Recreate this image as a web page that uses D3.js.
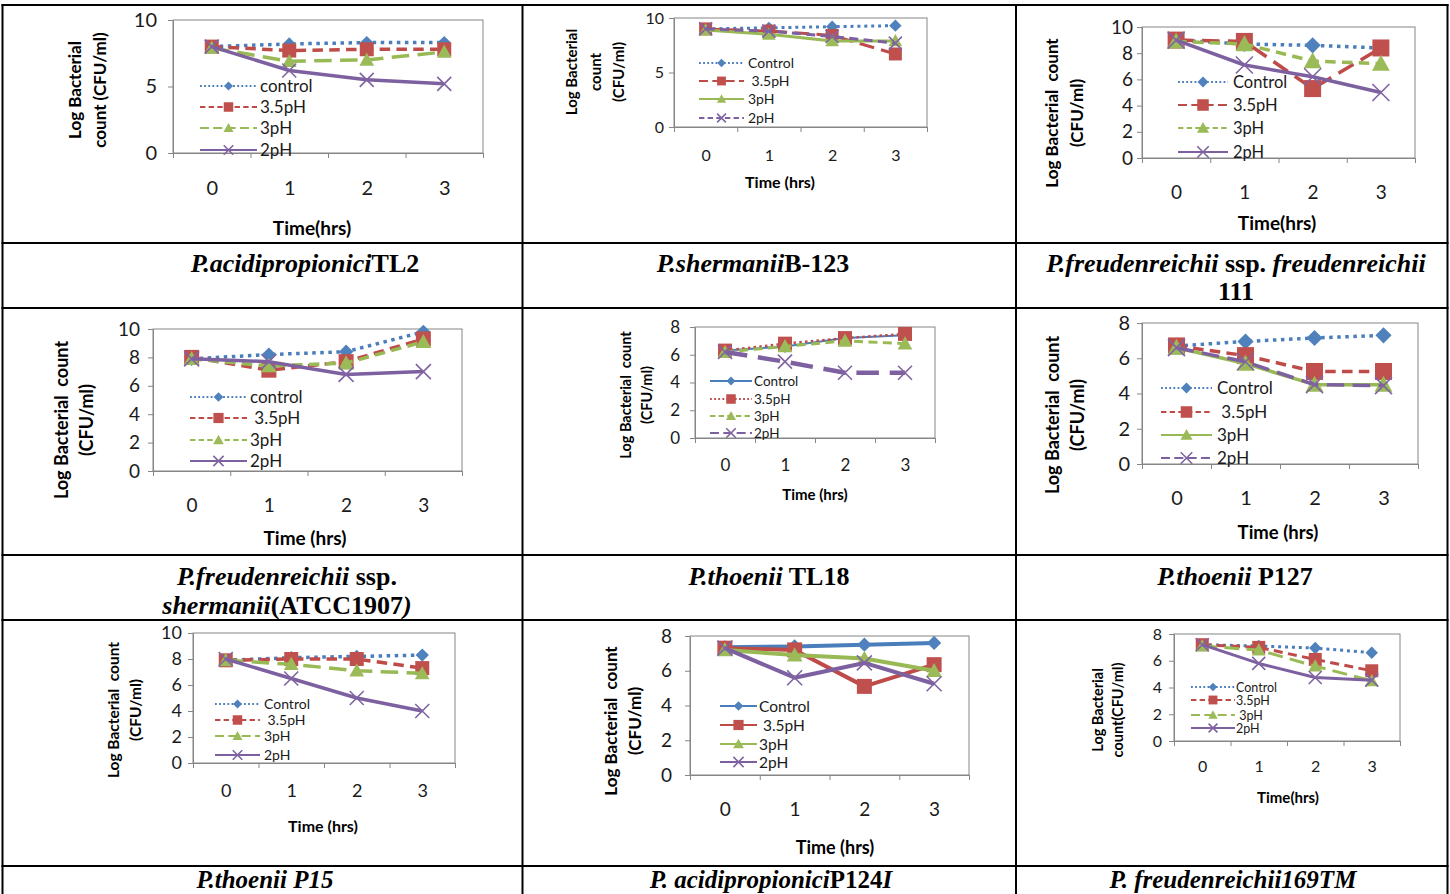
<!DOCTYPE html>
<html>
<head>
<meta charset="utf-8">
<script src="https://cdn.jsdelivr.net/npm/d3@7"></script>
<style>
  body { margin: 0; background: #fff; }
  svg { display: block; }
</style>
</head>
<body>
<svg id="fig" width="1450" height="894"></svg>
<script>
// sampling times (hrs)
const times = [0, 1, 2, 3];

// log bacterial count (CFU/ml) per strain, series order: control, 3.5pH, 3pH, 2pH
const acidipropioniciTL2 = [[8.0, 8.2, 8.3, 8.3], [8.0, 7.7, 7.8, 7.8], [7.9, 6.9, 7.0, 7.6], [8.0, 6.2, 5.5, 5.2]];
const shermaniiB123 = [[9.0, 9.1, 9.2, 9.3], [9.0, 8.8, 8.4, 6.7], [8.9, 8.5, 7.9, 7.9], [9.0, 8.8, 8.3, 7.7]];
const freudenreichii111 = [[9.0, 8.7, 8.6, 8.4], [9.0, 8.9, 5.3, 8.4], [8.9, 8.7, 7.4, 7.2], [9.0, 7.1, 6.2, 5.0]];
const shermaniiATCC1907 = [[7.9, 8.2, 8.4, 9.8], [8.0, 7.1, 7.7, 9.3], [7.9, 7.4, 7.6, 9.1], [7.9, 7.7, 6.8, 7.0]];
const thoeniiTL18 = [[6.3, 6.6, 7.2, 7.4], [6.3, 6.8, 7.2, 7.5], [6.2, 6.6, 7.0, 6.8], [6.2, 5.5, 4.7, 4.7]];
const thoeniiP127 = [[6.7, 6.95, 7.15, 7.3], [6.7, 6.15, 5.25, 5.25], [6.6, 5.7, 4.5, 4.5], [6.6, 5.8, 4.5, 4.45]];
const thoeniiP15 = [[7.9, 8.1, 8.2, 8.3], [7.9, 8.0, 8.0, 7.3], [7.9, 7.6, 7.1, 6.9], [8.0, 6.5, 5.0, 4.0]];
const acidipropioniciP124I = [[7.35, 7.4, 7.5, 7.6], [7.3, 7.2, 5.1, 6.35], [7.2, 6.9, 6.7, 6.0], [7.3, 5.6, 6.45, 5.25]];
const freudenreichii169TM = [[7.2, 7.1, 6.95, 6.6], [7.2, 7.0, 6.1, 5.25], [7.1, 6.8, 5.6, 4.5], [7.2, 5.8, 4.75, 4.55]];

const strainData = [
  acidipropioniciTL2, shermaniiB123, freudenreichii111,
  shermaniiATCC1907, thoeniiTL18, thoeniiP127,
  thoeniiP15, acidipropioniciP124I, freudenreichii169TM,
];

// axis maxima / tick steps per panel
const yMax = [10, 10, 10, 10, 8, 8, 10, 8, 8];
const yStep = [5, 5, 2, 2, 2, 2, 2, 2, 2];

// legend labels (as typed in each chart)
const legendLabels = [
  ['control', '3.5pH', '3pH', '2pH'],
  ['Control', ' 3.5pH', '3pH', '2pH'],
  ['Control', '3.5pH', '3pH', '2pH'],
  ['control', ' 3.5pH', '3pH', '2pH'],
  ['Control', '3.5pH', '3pH', '2pH'],
  ['Control', ' 3.5pH', '3pH', '2pH'],
  ['Control', ' 3.5pH', '3pH', '2pH'],
  ['Control', ' 3.5pH', '3pH', '2pH'],
  ['Control', '3.5pH', ' 3pH', '2pH'],
];

const yTitles = [
  ['Log Bacterial', 'count (CFU/ml)'],
  ['Log Bacterial', 'count', '(CFU/ml)'],
  ['Log Bacterial  count', '(CFU/ml)'],
  ['Log Bacterial  count', '(CFU/ml)'],
  ['Log Bacterial  count', '(CFU/ml)'],
  ['Log Bacterial  count', '(CFU/ml)'],
  ['Log Bacterial  count', '(CFU/ml)'],
  ['Log Bacterial  count', '(CFU/ml)'],
  ['Log Bacterial', 'count(CFU/ml)'],
];

const xTitles = ['Time(hrs)', 'Time (hrs)', 'Time(hrs)', 'Time (hrs)', 'Time (hrs)',
  'Time (hrs)', 'Time (hrs)', 'Time (hrs)', 'Time(hrs)'];

// captions: [text, italic] runs, one array per line
const captions = [
  [[['P.acidipropionici', 1], ['TL2', 0]]],
  [[['P.shermanii', 1], ['B-123', 0]]],
  [[['P.freudenreichii', 1], [' ssp. ', 0], ['freudenreichii', 1]], [['111', 0]]],
  [[['P.freudenreichii', 1], [' ssp.', 0]], [['shermanii', 1], ['(ATCC1907', 0], [')', 1]]],
  [[['P.thoenii', 1], [' TL18', 0]]],
  [[['P.thoenii', 1], [' P127', 0]]],
  [[['P.thoenii P15', 1]]],
  [[['P. acidipropionici', 1], ['P124', 0], ['I', 1]]],
  [[['P. freudenreichii169TM', 1]]],
];

// ---- layout (pixel geometry of each pasted chart) ----
const panels = [
  { plot: [173, 483, 20, 153], tickFs: 20, tickGap: 16, xLabY: 188, xTitle: [312, 228, 19],
    yT: { x: [75, 100], y: 90, fs: 17 }, leg: { x: [200, 257, 260], y: [86, 107, 128, 150], fs: 17 },
    lw: 3.5, ms: 14, dash: ['dot', 'dash', 'long', 'solid'] },
  { plot: [674, 927, 18, 127], tickFs: 16, tickGap: 10, xLabY: 155, xTitle: [780, 182, 16],
    yT: { x: [572, 596, 619], y: 72, fs: 15 }, leg: { x: [699, 744, 748], y: [63, 81, 99, 118], fs: 14 },
    lw: 3, ms: 13, dash: ['dot', 'long', 'solid', 'dash'] },
  { plot: [1142, 1415, 27, 158], tickFs: 19, tickGap: 9, xLabY: 192, xTitle: [1277, 223, 19],
    yT: { x: [1052, 1077], y: 113, fs: 17 }, leg: { x: [1178, 1228, 1233], y: [82, 105, 128, 152], fs: 16.5 },
    lw: 3.5, ms: 17, dash: ['dot', 'long', 'dash', 'solid'] },
  { plot: [153, 462, 329, 471], tickFs: 19, tickGap: 13, xLabY: 505, xTitle: [305, 538, 19],
    yT: { x: [62, 87], y: 420, fs: 18 }, leg: { x: [190, 247, 250], y: [397, 418, 440, 461], fs: 17 },
    lw: 3.5, ms: 15, dash: ['dot', 'dash', 'dash', 'solid'] },
  { plot: [695, 935, 327, 438], tickFs: 17, tickGap: 15, xLabY: 465, xTitle: [815, 495, 15],
    yT: { x: [626, 647], y: 395, fs: 14.5 }, leg: { x: [710, 752, 754], y: [381, 399, 416, 433], fs: 13.5 },
    lw: [2, 2.5, 3, 4.5], ms: 14, dash: ['solid', 'dot', 'dash', 'long'] },
  { plot: [1142, 1418, 323, 464], tickFs: 20, tickGap: 12, xLabY: 498, xTitle: [1278, 532, 18.5],
    yT: { x: [1053, 1078], y: 415, fs: 18 }, leg: { x: [1161, 1212, 1217], y: [388, 412, 435, 458], fs: 17 },
    lw: 3.5, ms: 17, dash: ['dot', 'dash', 'solid', 'long'] },
  { plot: [193, 455, 633, 763], tickFs: 18, tickGap: 11, xLabY: 791, xTitle: [323, 826, 16],
    yT: { x: [113, 135], y: 710, fs: 15.5 }, leg: { x: [215, 260, 264], y: [704, 720, 736, 755], fs: 14 },
    lw: 3.5, ms: 14, dash: ['dot', 'dash', 'long', 'solid'] },
  { plot: [690, 969, 636, 775], tickFs: 19, tickGap: 18, xLabY: 809, xTitle: [835, 848, 18],
    yT: { x: [611, 635], y: 721, fs: 17 }, leg: { x: [720, 757, 759], y: [706, 725, 744, 762], fs: 15.5 },
    lw: 4, ms: 15, dash: ['solid', 'solid', 'solid', 'solid'] },
  { plot: [1174, 1400, 634, 741], tickFs: 16, tickGap: 12, xLabY: 766, xTitle: [1288, 798, 15],
    yT: { x: [1098, 1118], y: 710, fs: 14.5 }, leg: { x: [1191, 1235, 1236], y: [687, 700, 715, 728], fs: 12.5 },
    lw: 3, ms: 13, dash: ['dot', 'dash', 'long', 'solid'] },
];

const captionPos = [
  [305, [272]], [753, [272]], [1236, [272, 300]],
  [287, [585, 614]], [769, [585]], [1235, [585]],
  [265, [888]], [771, [888]], [1233, [888]],
];

const seriesStyle = [
  { marker: 'diamond', line: '#4a7ebb', fill: '#4f81bd' },
  { marker: 'square', line: '#be4b48', fill: '#c0504d' },
  { marker: 'triangle', line: '#98b954', fill: '#9bbb59' },
  { marker: 'x', line: '#7d60a0', fill: '#8064a2' },
];

const font = 'Lato, "Open Sans", sans-serif';
const axisGray = '#868686';

const svg = d3.select('#fig');

function dashFor(kind, w) {
  if (kind === 'dot') return `${w},${w * 1.3}`;
  if (kind === 'dash') return `${w * 3},${w * 1.8}`;
  if (kind === 'long') return `${w * 5},${w * 2.4}`;
  return null;
}

// marker outline around (0,0)
function markerPath(kind, s) {
  const h = s / 2;
  if (kind === 'diamond') return `M0,${-h}L${h},0L0,${h}L${-h},0Z`;
  if (kind === 'square') return `M${-h},${-h}H${h}V${h}H${-h}Z`;
  if (kind === 'triangle') return `M0,${-h}L${h},${h * 0.8}L${-h},${h * 0.8}Z`;
  return `M${-h},${-h}L${h},${h}M${h},${-h}L${-h},${h}`;
}

function addMarker(sel, k, s, cx, cy) {
  const st = seriesStyle[k];
  const size = st.marker === 'diamond' ? s * 0.95 : st.marker === 'triangle' ? s * 1.05 : s;
  const m = sel.append('path')
    .attr('transform', `translate(${cx},${cy})`)
    .attr('d', markerPath(st.marker, size));
  if (st.marker === 'x') {
    m.attr('fill', 'none').attr('stroke', st.fill).attr('stroke-width', 1.6);
  } else {
    m.attr('fill', st.fill).attr('stroke', 'none');
  }
}

function drawPanel(p, i) {
  const [x0, x1, yTop, yBot] = p.plot;
  const g = svg.append('g');

  const xLin = d3.scaleLinear().domain([-0.5, times.length - 0.5]).range([x0, x1]);
  const y = d3.scaleLinear().domain([0, yMax[i]]).range([yBot, yTop]);

  // plot area frame
  g.append('rect')
    .attr('x', x0).attr('y', yTop)
    .attr('width', x1 - x0).attr('height', yBot - yTop)
    .attr('fill', 'none').attr('stroke', axisGray).attr('stroke-width', 1);

  // y axis
  const yAxis = g.append('g')
    .attr('transform', `translate(${x0},0)`)
    .call(d3.axisLeft(y)
      .tickValues(d3.range(0, yMax[i] + 0.001, yStep[i]))
      .tickFormat(d3.format('d'))
      .tickSize(5).tickSizeOuter(0)
      .tickPadding(p.tickGap - 5));

  // x axis: boundary ticks + centred labels
  const xTicks = g.append('g')
    .attr('transform', `translate(0,${yBot})`)
    .call(d3.axisBottom(xLin)
      .tickValues(d3.range(-0.5, times.length, 1))
      .tickSize(5).tickSizeOuter(0).tickFormat(''));
  const xLabels = g.append('g')
    .attr('transform', `translate(0,${yBot})`)
    .call(d3.axisBottom(xLin)
      .tickValues(times)
      .tickFormat(d3.format('d'))
      .tickSize(0)
      .tickPadding(p.xLabY - yBot - 0.36 * p.tickFs));
  xLabels.select('.domain').remove();

  [yAxis, xTicks, xLabels].forEach(a => {
    a.selectAll('.domain, line').attr('stroke', axisGray);
    a.selectAll('text')
      .attr('font-family', font)
      .attr('font-size', p.tickFs)
      .attr('fill', '#1a1a1a');
  });

  // series
  const line = d3.line()
    .x((d, j) => xLin(times[j]))
    .y(d => y(d));

  strainData[i].forEach((vals, k) => {
    const w = Array.isArray(p.lw) ? p.lw[k] : p.lw;
    g.append('path')
      .datum(vals)
      .attr('d', line)
      .attr('fill', 'none')
      .attr('stroke', seriesStyle[k].line)
      .attr('stroke-width', w)
      .attr('stroke-linejoin', 'round')
      .attr('stroke-dasharray', dashFor(p.dash[k], w));
    vals.forEach((v, j) => addMarker(g, k, p.ms, xLin(times[j]), y(v)));
  });

  // legend
  const lg = g.append('g');
  legendLabels[i].forEach((lab, k) => {
    const ly = p.leg.y[k];
    const w = 1.8;
    lg.append('line')
      .attr('x1', p.leg.x[0]).attr('x2', p.leg.x[1])
      .attr('y1', ly).attr('y2', ly)
      .attr('stroke', seriesStyle[k].line)
      .attr('stroke-width', w)
      .attr('stroke-dasharray', dashFor(p.dash[k], w));
    addMarker(lg, k, p.ms * 0.68, (p.leg.x[0] + p.leg.x[1]) / 2, ly);
    lg.append('text')
      .attr('x', p.leg.x[2]).attr('y', ly)
      .attr('dy', '0.36em')
      .style('white-space', 'pre')
      .attr('font-family', font)
      .attr('font-size', p.leg.fs)
      .attr('fill', '#1a1a1a')
      .text(lab);
  });

  // axis titles
  g.append('text')
    .attr('x', p.xTitle[0]).attr('y', p.xTitle[1])
    .attr('dy', '0.36em')
    .attr('text-anchor', 'middle')
    .attr('font-family', font)
    .attr('font-weight', 'bold')
    .attr('font-size', p.xTitle[2])
    .text(xTitles[i]);

  yTitles[i].forEach((t, j) => {
    g.append('text')
      .attr('transform', `translate(${p.yT.x[j]},${p.yT.y}) rotate(-90)`)
      .attr('dy', '0.36em')
      .attr('text-anchor', 'middle')
      .style('white-space', 'pre')
      .attr('font-family', font)
      .attr('font-weight', 'bold')
      .attr('font-size', p.yT.fs)
      .text(t);
  });
}

panels.forEach(drawPanel);

// captions
captions.forEach((lines, i) => {
  const [cx, baselines] = captionPos[i];
  const fs = i >= 6 ? 25 : 26;
  lines.forEach((runs, j) => {
    const t = svg.append('text')
      .attr('x', cx).attr('y', baselines[j])
      .attr('text-anchor', 'middle')
      .style('white-space', 'pre')
      .attr('font-family', '"Liberation Serif", "Times New Roman", serif')
      .attr('font-weight', 'bold')
      .attr('font-size', fs);
    runs.forEach(([txt, it]) => {
      t.append('tspan')
        .attr('font-style', it ? 'italic' : 'normal')
        .text(txt);
    });
  });
});

// table rules
const rowRules = [5, 243, 308, 555, 620, 866];
const colRules = [2.5, 522.5, 1016, 1447.5];
const grid = svg.append('g').attr('stroke', '#000').attr('stroke-width', 2);
rowRules.forEach(ry => {
  grid.append('line').attr('x1', 1.5).attr('x2', 1448.5).attr('y1', ry).attr('y2', ry);
});
colRules.forEach(rx => {
  grid.append('line').attr('x1', rx).attr('x2', rx).attr('y1', 4).attr('y2', 894);
});
</script>
</body>
</html>
